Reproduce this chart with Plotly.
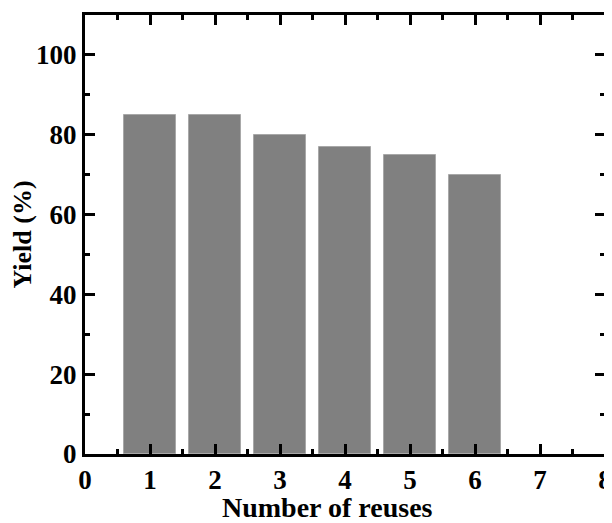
import plotly.graph_objects as go

reuses = [1, 2, 3, 4, 5, 6]
yield_pct = [85, 85, 80, 77, 75, 70]
x_ticks = [0, 1, 2, 3, 4, 5, 6, 7, 8]
y_ticks = [0, 20, 40, 60, 80, 100]

font_fam = "Liberation Serif"

fig = go.Figure()
fig.add_trace(go.Bar(
    x=reuses, y=yield_pct, width=0.8,
    marker=dict(color="#808080", line=dict(color="#a8a8a8", width=1)),
))

axis_common = dict(
    showline=True, linecolor="black", linewidth=3, mirror="allticks",
    ticks="inside", ticklen=10, tickwidth=3, tickcolor="black",
    showgrid=False, zeroline=False, automargin=False,
    tickfont=dict(family=font_fam, size=27, color="black", weight="bold"),
)

fig.update_xaxes(
    range=[0, 8], tickvals=x_ticks, ticktext=[str(v) for v in x_ticks],
    minor=dict(ticks="inside", ticklen=5, tickwidth=3, dtick=0.5, tick0=0, tickcolor="black"),
    **axis_common,
)
fig.update_yaxes(
    range=[0, 110], tickvals=y_ticks, ticktext=[str(v) for v in y_ticks],
    minor=dict(ticks="inside", ticklen=5, tickwidth=3, dtick=10, tick0=0, tickcolor="black"),
    title=dict(text="Yield (%)", font=dict(family=font_fam, size=26, color="black", weight="bold"), standoff=3),
    **axis_common,
)

fig.add_annotation(
    text="Number of reuses", xref="paper", yref="paper",
    x=0.467, y=-0.122, xanchor="center", yanchor="middle", showarrow=False,
    font=dict(family=font_fam, size=28, color="black", weight="bold"),
)

# page body has an 8px default margin; figure sized to fill the rest of the window
fig.update_layout(
    width=604, height=515,
    margin=dict(l=77, r=7, t=7, b=69),
    plot_bgcolor="white", paper_bgcolor="white",
    showlegend=False, bargap=0,
)

fig.write_html("out.html")
